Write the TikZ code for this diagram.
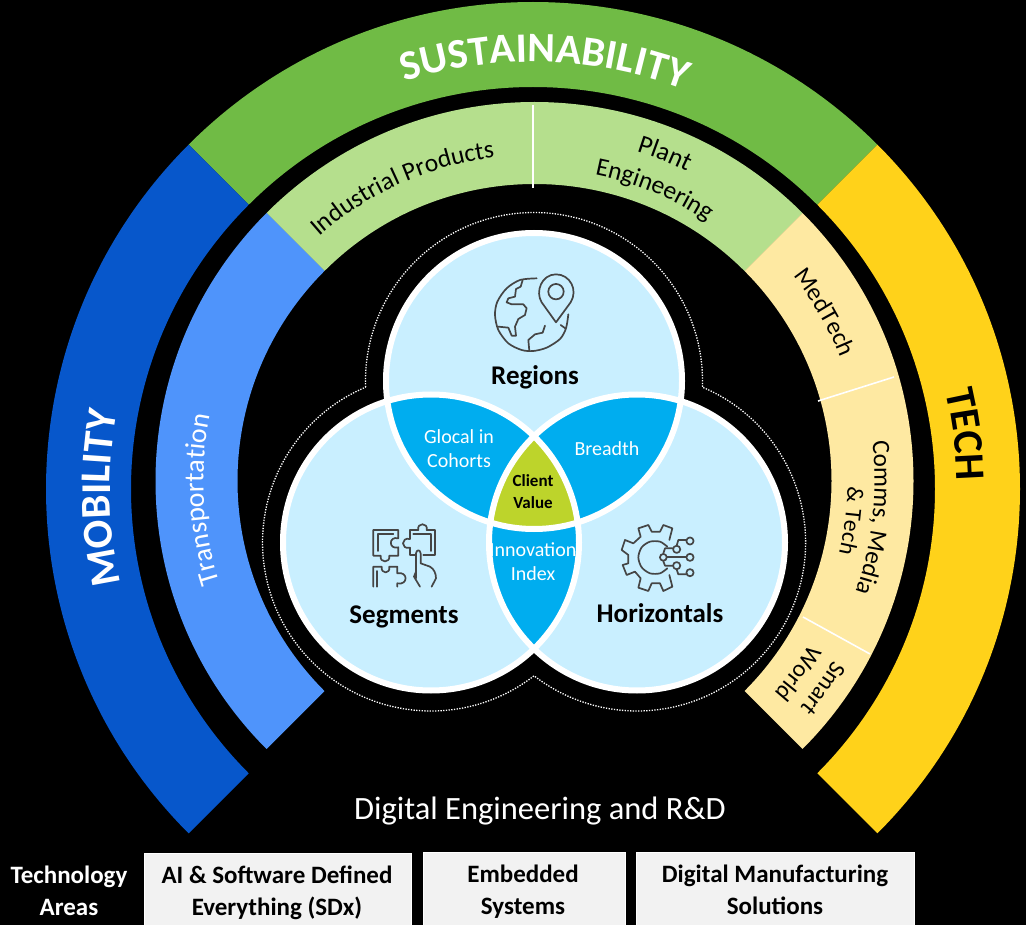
\documentclass[tikz,border=0pt]{standalone}
\usepackage{fontspec}
\setmainfont{Carlito}
\usetikzlibrary{decorations.text}
\definecolor{deepblue}{HTML}{0757CB}
\definecolor{midblue}{HTML}{4F94FB}
\definecolor{deepgreen}{HTML}{70BB45}
\definecolor{palegreen}{HTML}{B5DF8D}
\definecolor{deepyellow}{HTML}{FFD21A}
\definecolor{paleyellow}{HTML}{FEE9A2}
\definecolor{paleblue}{HTML}{C9EFFF}
\definecolor{lensblue}{HTML}{00ADEF}
\definecolor{lime}{HTML}{BDD42B}
\definecolor{icongrey}{HTML}{454545}
\definecolor{boxgrey}{HTML}{F2F2F2}
\tikzset{
  iconline/.style={draw=icongrey,line width=1.7pt,line join=round,line cap=round},
  rule/.style={draw=white,line width=1.6pt},
  boxlabel/.style={font=\fontsize{25}{32}\selectfont\bfseries,align=center,text=black},
  ringlabel/.style={font=\fontsize{20}{24}\selectfont,align=center,text=white},
  bigcap/.style={font=\fontsize{27}{32}\selectfont\bfseries,text=black},
  techbox/.style={fill=boxgrey,draw=white,line width=0.5pt}
}
% band: colour, cx, cy, inner r, outer r, start angle, end angle
\newcommand{\bandarc}[7]{%
  \fill[#1,shift={(#2,-#3)}] (#6:#4) arc[start angle=#6,end angle=#7,radius=#4]
    -- (#7:#5) arc[start angle=#7,end angle=#6,radius=#5] -- cycle;}
% curved text reading clockwise: cx, cy, r, mid angle, size, style, text
\newcommand{\curvetext}[7]{%
  \path[shift={(#1,-#2)},decorate,decoration={text along path,text align=center,
    text={|\fontsize{#5}{#5}\selectfont#6|#7}}]
    (#4+40:#3) arc[start angle=#4+40,end angle=#4-40,radius=#3];}
\begin{document}
\begin{tikzpicture}[x=1pt,y=1pt]
\useasboundingbox (0,0) rectangle (1026,-925);
\fill[black] (0,0) rectangle (1026,-925);
% outer ring
\bandarc{deepgreen}{533}{489}{402}{487}{135}{45}
\bandarc{deepblue}{533}{489}{402}{487}{225}{135}
\bandarc{deepyellow}{533}{489}{402}{487}{45}{-45}
% inner ring
\bandarc{palegreen}{534.5}{481}{297}{379}{135}{45}
\bandarc{midblue}{534.5}{481}{297}{379}{225}{135}
\bandarc{paleyellow}{534.5}{481}{297}{379}{45}{-45}
% dividers
\coordinate (d1a) at (533,-105); \coordinate (d1b) at (533,-188);
\coordinate (d2a) at (818,-401); \coordinate (d2b) at (894,-377);
\coordinate (d3a) at (803,-617); \coordinate (d3b) at (870,-654);
\draw[rule] (d1a) -- (d1b);
\draw[rule] (d2a) -- (d2b);
\draw[rule] (d3a) -- (d3b);
% curved labels
\curvetext{533}{489}{427}{88.4}{42}{\bfseries\color{white}}{SUSTAINABILITY}
\curvetext{533}{489}{423}{181.2}{42.5}{\bfseries\color{white}}{MOBILITY}
\curvetext{533}{489}{424}{7.2}{42}{\bfseries\color{black}}{TECH}
\curvetext{534.5}{481}{331}{183.2}{28}{\color{white}}{Transportation}
\curvetext{534.5}{481}{326}{114.2}{25.5}{\color{black}}{Industrial Products}
\curvetext{534.5}{481}{345}{68.3}{26}{\color{black}}{Plant}
\curvetext{534.5}{481}{312}{67.6}{25.5}{\color{black}}{Engineering}
\curvetext{534.5}{481}{330}{30.2}{25}{\color{black}}{MedTech}
\curvetext{534.5}{481}{340}{-6.2}{25}{\color{black}}{Comms, Media}
\curvetext{534.5}{481}{313}{-7.2}{23.5}{\color{black}}{{\&} Tech}
\curvetext{534.5}{481}{349}{-35.7}{24}{\color{black}}{Smart}
\curvetext{534.5}{481}{320}{-36.1}{24}{\color{black}}{World}
% dotted outline
\draw[white,line width=1.3pt,dash pattern=on 1.3pt off 1.4pt]
  (534,-381) ++(182.1:168.5) arc[start angle=182.1,end angle=-2.1,radius=168.5]
  arc[start angle=67.2,end angle=-127.7,radius=168.5]
  arc[start angle=-52.3,end angle=-247.2,radius=168.5];
% venn
\coordinate (ct) at (534,-381);
\coordinate (cl) at (431,-542.5);
\coordinate (cr) at (637,-542.5);
\def\rv{148pt}
\fill[paleblue] (ct) circle[radius=\rv];
\fill[paleblue] (cl) circle[radius=\rv];
\fill[paleblue] (cr) circle[radius=\rv];
\begin{scope}\clip (ct) circle[radius=\rv]; \fill[lensblue] (cl) circle[radius=\rv]; \end{scope}
\begin{scope}\clip (ct) circle[radius=\rv]; \fill[lensblue] (cr) circle[radius=\rv]; \end{scope}
\begin{scope}\clip (cl) circle[radius=\rv]; \fill[lensblue] (cr) circle[radius=\rv]; \end{scope}
\begin{scope}\clip (ct) circle[radius=\rv]; \clip (cl) circle[radius=\rv]; \fill[lime] (cr) circle[radius=\rv]; \end{scope}
\draw[white,line width=6pt] (ct) circle[radius=\rv];
\draw[white,line width=6pt] (cl) circle[radius=\rv];
\draw[white,line width=6pt] (cr) circle[radius=\rv];
% venn labels
\node[bigcap] (regions) at (535,-377) {Regions};
\node[bigcap] (segments) at (404,-617) {Segments};
\node[bigcap] (horizontals) at (660,-613) {Horizontals};
\node[ringlabel] (glocal) at (459,-449) {Glocal in\\Cohorts};
\node[ringlabel] (breadth) at (607,-449) {Breadth};
\node[ringlabel] (innov) at (533,-562) {Innovation\\Index};
\node[font=\fontsize{17}{22}\selectfont\bfseries,align=center,text=black] (client) at (533,-492) {Client\\Value};
% globe icon
\begin{scope}[shift={(480,-265)},x=0.3333pt,y=-0.3333pt,iconline]
  \draw plot[smooth] coordinates {(170,40) (120,45) (80,70) (52,110) (45,150) (55,195) (85,235) (125,255) (160,258) (200,248) (240,222) (258,190) (265,148)};
  \draw (128,45) -- (122,65) -- (108,72) -- (105,95) -- (85,100) -- (80,112) -- (95,118) -- (130,118) -- (140,130) -- (135,150) -- (115,162) -- (105,185) -- (108,212) -- (95,212) -- (85,188) -- (55,185);
  \draw (195,182) -- (188,203) -- (165,208) -- (145,225) -- (148,258);
  \draw (242,180) -- (256,190);
  \draw (228,172) -- (185,112) .. controls (165,80) and (185,28) .. (228,28) .. controls (270,28) and (295,75) .. (272,112) -- cycle;
  \draw (228,80) circle[radius=7.7pt];
\end{scope}
% puzzle icon
\begin{scope}[shift={(360,-515)},x=0.3333pt,y=-0.3333pt,iconline]
  \draw (115,70) -- (115,45) -- (40,45) -- (40,122) -- (62,122) .. controls (58,145) and (92,145) .. (88,122) -- (115,122) -- (115,97) .. controls (85,105) and (85,62) .. (115,70);
  \draw (100,58) -- (55,58) -- (55,108);
  \draw (150,45) -- (175,45) .. controls (170,22) and (205,22) .. (200,45) -- (225,45) -- (225,120) -- (190,120);
  \draw (165,120) -- (150,120) -- (150,98) .. controls (122,105) and (122,65) .. (150,72) -- (150,45);
  \draw (160,58) -- (212,58) -- (212,108);
  \draw (40,215) -- (40,155) -- (65,155) .. controls (62,178) and (92,178) .. (88,155) -- (112,155) -- (112,175) .. controls (145,168) and (145,212) .. (112,205) -- (112,215);
  \draw (52,215) -- (52,168);
  \draw (180,215) -- (162,185) -- (168,170);
  \draw (168,190) -- (168,115) .. controls (170,103) and (180,103) .. (182,115) -- (182,145) -- (210,155) .. controls (222,162) and (228,175) .. (228,190) -- (215,215);
\end{scope}
% gear icon
\begin{scope}[shift={(610,-515)},x=0.3333pt,y=-0.3333pt,iconline]
  \draw (178,75) -- (187,40) -- (160,30) -- (150,50) -- (125,50) -- (115,30) -- (85,40) -- (92,65) -- (70,85) -- (45,75) -- (35,105) -- (55,120) -- (55,145) -- (38,150) -- (50,180) -- (75,170) -- (92,190) -- (85,218) -- (115,228) -- (125,205) -- (150,205) -- (160,228) -- (187,215) -- (178,180);
  \draw plot[smooth] coordinates {(172,95) (150,80) (120,80) (95,97) (85,127) (95,157) (120,175) (150,175) (172,160)};
  \draw (160,127) circle[radius=3.4pt];
  \draw (240,127) circle[radius=3.6pt];
  \draw (240,78) circle[radius=3.6pt];
  \draw (240,173) circle[radius=3.6pt];
  \draw (200,103) circle[radius=3.6pt];
  \draw (200,152) circle[radius=3.6pt];
  \draw (172,127) -- (228,127);
  \draw (160,115) -- (165,100) -- (188,100);
  \draw (160,139) -- (165,152) -- (188,152);
  \draw (200,92) -- (205,75) -- (228,75);
  \draw (200,163) -- (205,178) -- (228,178);
\end{scope}
% bottom
\node[font=\fontsize{32.5}{38}\selectfont,text=white] (digital) at (540,-811) {Digital Engineering and R\&D};
\path[techbox] (144,-853) rectangle (411,-926);
\path[techbox] (423,-852) rectangle (625,-926);
\path[techbox] (636,-852) rectangle (914,-926);
\node[boxlabel,text=white] (techareas) at (69,-891) {Technology\\Areas};
\node[boxlabel] (ai) at (277,-892.5) {AI \& Software Defined\\Everything (SDx)};
\node[boxlabel] (emb) at (523,-892) {Embedded\\Systems};
\node[boxlabel] (dms) at (775,-890) {Digital Manufacturing\\Solutions};
\end{tikzpicture}
\end{document}
